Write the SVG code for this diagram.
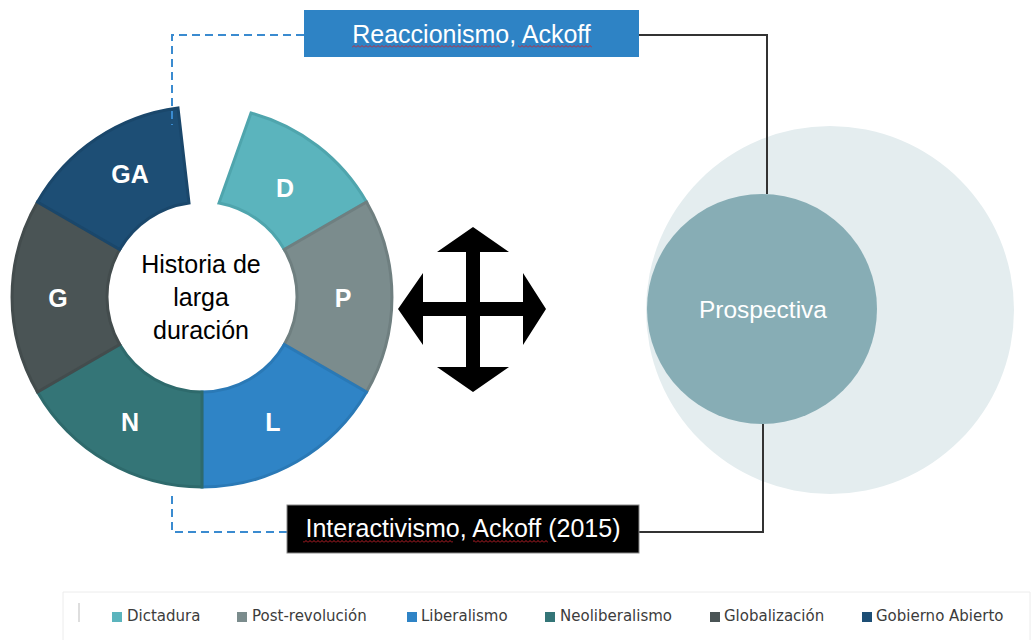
<svg xmlns="http://www.w3.org/2000/svg" width="1034" height="640" viewBox="0 0 1034 640">
<defs>
<style>
.seg{stroke-width:3;stroke-linejoin:miter}
.seglbl{font-family:"Liberation Sans",Arial,sans-serif;font-weight:bold;font-size:25px;fill:#fff;text-anchor:middle}
.ctr{font-family:"Liberation Sans",Arial,sans-serif;font-size:25px;fill:#000;text-anchor:middle}
.boxlbl{font-family:"Liberation Sans",Arial,sans-serif;font-size:25px;fill:#fff;text-anchor:middle}
.dash{fill:none;stroke:#3a8bd0;stroke-width:2;stroke-dasharray:8 5}
.solid{fill:none;stroke:#333;stroke-width:2}
.leg{font-family:"DejaVu Sans",sans-serif;font-size:15px;fill:#3c3c3c}
.sq{fill:url(#squig)}
</style>
<pattern id="squig" x="0" y="0" width="4" height="3" patternUnits="userSpaceOnUse">
<path d="M0 2.5 L2 0.5 L4 2.5" fill="none" stroke="#d0202a" stroke-width="0.9"/>
</pattern>
</defs>
<rect width="1034" height="640" fill="#fff"/>

<g id="ring">
<g id="seg-D"><path class="seg" d="M251 113 A190 190 0 0 1 366.5 202 L284.3 249.5 A95 95 0 0 0 219 203 Z" fill="#5bb4bd" stroke="#4fa5ad"/><text class="seglbl" x="285" y="197">D</text></g>
<g id="seg-P"><path class="seg" d="M366.5 202 A190 190 0 0 1 366.5 392 L284.3 344.5 A95 95 0 0 0 284.3 249.5 Z" fill="#7b8c8d" stroke="#6f7f80"/><text class="seglbl" x="343" y="307">P</text></g>
<g id="seg-L"><path class="seg" d="M366.5 392 A190 190 0 0 1 202 487 L202 392 A95 95 0 0 0 284.3 344.5 Z" fill="#2f84c6" stroke="#2a79b6"/><text class="seglbl" x="273" y="431">L</text></g>
<g id="seg-N"><path class="seg" d="M202 487 A190 190 0 0 1 37.5 392 L119.7 344.5 A95 95 0 0 0 202 392 Z" fill="#347577" stroke="#2e6a6c"/><text class="seglbl" x="130" y="431">N</text></g>
<g id="seg-G"><path class="seg" d="M37.5 392 A190 190 0 0 1 37.5 202 L119.7 249.5 A95 95 0 0 0 119.7 344.5 Z" fill="#4a5455" stroke="#434c4d"/><text class="seglbl" x="58" y="307">G</text></g>
<g id="seg-GA"><path class="seg" d="M37.5 202 A190 190 0 0 1 178 108 L189 203 A95 95 0 0 0 119.7 249.5 Z" fill="#1d4e75" stroke="#1a476b"/><text class="seglbl" x="130" y="183">GA</text></g>
<g id="center-text">
<text class="ctr" x="201" y="273">Historia de</text>
<text class="ctr" x="201" y="306">larga</text>
<text class="ctr" x="201" y="339">duración</text>
</g>
</g>

<g id="cross-arrow">
<polygon fill="#000" points="473,227 509,252 480,252 480,302 523,302 523,273 546,309 523,345 523,316 480,316 480,367 509,367 473,392 437,367 466,367 466,316 423,316 423,345 398,309 423,273 423,302 466,302 466,252 437,252"/>
</g>

<g id="prospectiva">
<circle cx="830" cy="310" r="184" fill="#e4edef"/>
<circle cx="762" cy="309" r="115" fill="#87adb5"/>
<text class="boxlbl" x="763" y="318" style="font-size:24.5px">Prospectiva</text>
</g>

<g id="connectors">
<polyline class="dash" points="304,35 172,35 172,125"/>
<polyline class="dash" points="287,532 172,532 172,493"/>
<polyline class="solid" points="639,35 767,35 767,194"/>
<polyline class="solid" points="763,424 763,532 639,532"/>
</g>

<g id="reaccionismo">
<rect x="304" y="10" width="335" height="47" fill="#2e83c5"/>
<text class="boxlbl" x="471.5" y="43">Reaccionismo, Ackoff</text>
<rect class="sq" x="352" y="45" width="148" height="3"/>
<rect class="sq" x="518" y="45" width="74" height="3"/>
</g>

<g id="interactivismo">
<rect x="287" y="505" width="352" height="48" fill="#000" stroke="#888" stroke-width="1"/>
<text class="boxlbl" x="463" y="537">Interactivismo, Ackoff (2015)</text>
<rect class="sq" x="303" y="540" width="150" height="3"/>
<rect class="sq" x="473" y="540" width="75" height="3"/>
</g>

<g id="legend">
<path d="M63 592 V640 M63 592 H1030 V640" fill="none" stroke="#ececec" stroke-width="1"/>
<line x1="79" y1="603" x2="79" y2="622" stroke="#bdbdbd" stroke-width="1"/>
<rect x="112" y="612" width="10" height="10" fill="#5bb4bd"/><text class="leg" x="127" y="621">Dictadura</text>
<rect x="237" y="612" width="10" height="10" fill="#7b8c8d"/><text class="leg" x="252" y="621">Post-revolución</text>
<rect x="407" y="612" width="10" height="10" fill="#2f84c6"/><text class="leg" x="421" y="621">Liberalismo</text>
<rect x="545" y="612" width="10" height="10" fill="#347577"/><text class="leg" x="560" y="621">Neoliberalismo</text>
<rect x="710" y="612" width="10" height="10" fill="#4a5455"/><text class="leg" x="724" y="621">Globalización</text>
<rect x="862" y="612" width="10" height="10" fill="#1d4e75"/><text class="leg" x="876" y="621">Gobierno Abierto</text>
</g>
</svg>
